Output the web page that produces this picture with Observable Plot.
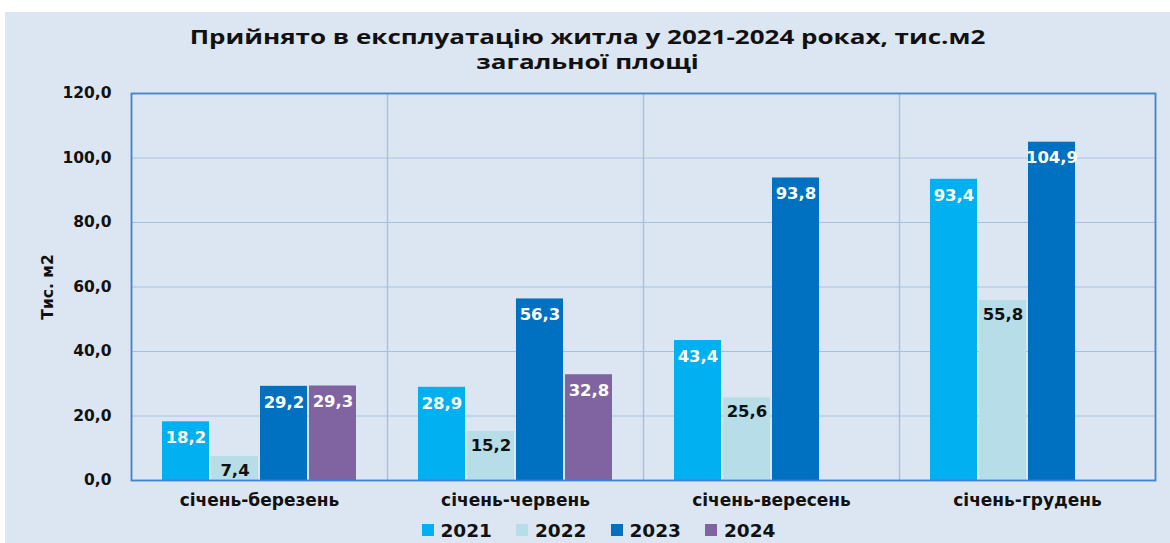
<!DOCTYPE html>
<html>
<head>
<meta charset="utf-8">
<script src="https://cdn.jsdelivr.net/npm/d3@7"></script>
<script src="https://cdn.jsdelivr.net/npm/@observablehq/plot@0.6"></script>
<style>
  html, body { margin: 0; padding: 0; background: #ffffff; }
  #panel { position: absolute; left: 5px; top: 12px; width: 1165px; height: 531px; background: #dce6f2; overflow: hidden; }
  #title { height: 58px; padding-top: 12px; text-align: center; font-family: "Open Sans", sans-serif; font-weight: 700; font-size: 20px; color: #111; }
  #title div { height: 25px; line-height: 25px; transform: scaleX(1.3); transform-origin: 50% 50%; white-space: nowrap; }
  #legend { margin-top: 10px; height: 20px; display: flex; justify-content: center; align-items: center; font-family: "DejaVu Sans", sans-serif; font-weight: 700; font-size: 18.5px; color: #111; padding-left: 22px; }
  #legend .item { display: flex; align-items: center; margin: 0 12px; }
  #legend .sw { width: 12px; height: 12px; margin-right: 7px; }
</style>
</head>
<body>
<div id="panel">
  <div id="title"><div>Прийнято в експлуатацію житла у 2021-2024 роках, тис.м2</div><div>загальної площі</div></div>
  <div id="chart"></div>
  <div id="legend"></div>
</div>
<script>
const periods = ["січень-березень", "січень-червень", "січень-вересень", "січень-грудень"];
const years = ["2021", "2022", "2023", "2024"];
const v2021 = [18.2, 28.9, 43.4, 93.4];
const v2022 = [7.4, 15.2, 25.6, 55.8];
const v2023 = [29.2, 56.3, 93.8, 104.9];
const v2024 = [29.3, 32.8, null, null];
const yTicks = [0, 20, 40, 60, 80, 100, 120];
const colors = ["#00b0f0", "#b7dde8", "#0070c0", "#8064a2"];
const yLabel = "Тис. м2";

const series = [v2021, v2022, v2023, v2024];
const rows = [];
periods.forEach((p, i) => {
  years.forEach((yr, j) => {
    const v = series[j][i];
    if (v != null) rows.push({period: p, year: yr, value: v});
  });
});
const fmt = v => v.toFixed(1).replace(".", ",");
const font = "DejaVu Sans, sans-serif";

const chart = Plot.plot({
  width: 1165,
  height: 428,
  marginLeft: 126,
  marginRight: 15,
  marginTop: 11,
  marginBottom: 30,
  style: {background: "transparent", fontFamily: font, color: "#111"},
  fx: {domain: periods, padding: 0, label: null},
  x: {domain: years, paddingInner: 0.04, paddingOuter: 0.6, axis: null},
  y: {domain: [0, 120], ticks: yTicks, label: null},
  color: {domain: years, range: colors},
  marks: [
    Plot.gridY(yTicks, {stroke: "#a3c1e6", strokeOpacity: 1, strokeWidth: 1.2}),
    Plot.frame({stroke: "#a3c1e6", strokeWidth: 1.2}),
    Plot.barY(rows, {fx: "period", x: "year", y: "value", fill: "year"}),
    Plot.text(rows.filter(d => d.year !== "2022"), {fx: "period", x: "year", y: "value", text: d => fmt(d.value), fill: "white", dy: 16, lineAnchor: "middle", fontWeight: "bold", fontSize: 16.5, fontFamily: font}),
    Plot.text(rows.filter(d => d.year === "2022"), {fx: "period", x: "year", y: "value", text: d => fmt(d.value), fill: "#111", dy: 14, lineAnchor: "middle", fontWeight: "bold", fontSize: 16.5, fontFamily: font}),
    Plot.frame({facet: "super", stroke: "#3f86d0", strokeWidth: 1.8}),
    Plot.axisY(yTicks, {tickSize: 0, tickPadding: 20, tickFormat: fmt, fontSize: 15.5, fontWeight: "bold", fontFamily: font, label: yLabel, labelAnchor: "center", labelArrow: "none", labelOffset: 90}),
    Plot.axisFx({anchor: "bottom", tickSize: 0, tickPadding: 13, fontSize: 17, fontWeight: "bold", fontFamily: font, label: null})
  ]
});
document.getElementById("chart").appendChild(chart);

const legend = document.getElementById("legend");
years.forEach((yr, j) => {
  const item = document.createElement("div");
  item.className = "item";
  const sw = document.createElement("span");
  sw.className = "sw";
  sw.style.background = colors[j];
  const t = document.createElement("span");
  t.textContent = yr;
  item.appendChild(sw);
  item.appendChild(t);
  legend.appendChild(item);
});
</script>
</body>
</html>
